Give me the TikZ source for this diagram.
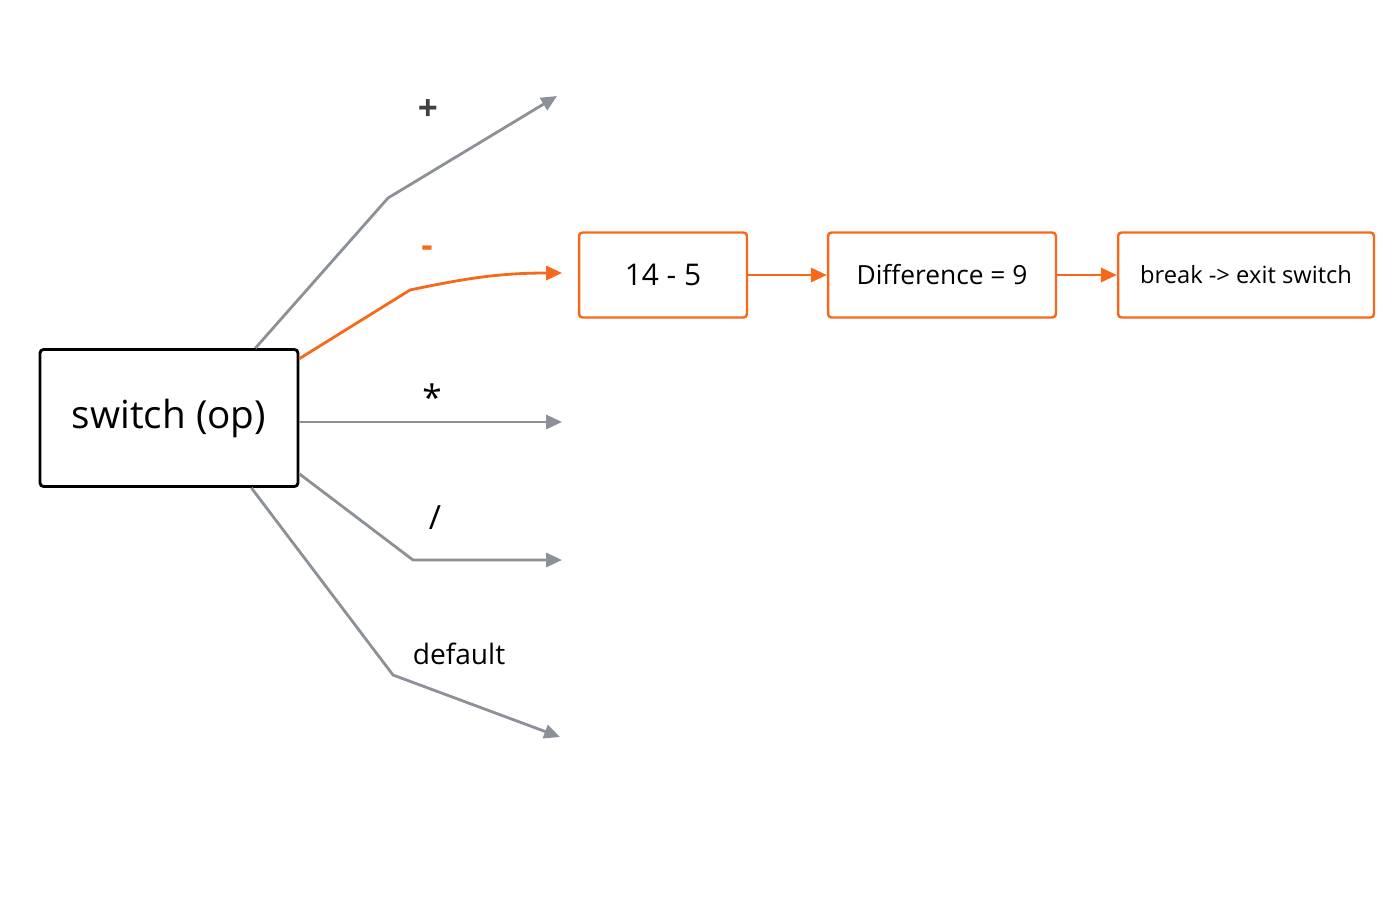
\documentclass[tikz,border=0pt]{standalone}
\usepackage{fontspec}
\setmainfont{Open Sans}
\usetikzlibrary{arrows.meta,positioning}

\definecolor{branchgray}{RGB}{140,144,152}
\definecolor{steporange}{RGB}{246,104,26}

\tikzset{
  gray line/.style={draw=branchgray, line width=1.6pt, -{Triangle[length=9pt,width=8pt]}},
  orange line/.style={draw=steporange, line width=1.6pt, -{Triangle[length=9pt,width=8pt]}},
  step box/.style={draw=steporange, line width=1.4pt, rounded corners=2pt, minimum height=1.7cm, inner sep=0pt},
  lbl/.style={font=\fontsize{16}{18}\selectfont}
}

\begin{document}
\begin{tikzpicture}[x=0.02cm,y=-0.02cm]
    \useasboundingbox (0,0) rectangle (1400,900);

    \node [draw, line width=1.6pt, rounded corners=2pt, minimum width=5.16cm, minimum height=2.74cm,
           font=\fontsize{22}{26}\selectfont] (sw) at (169,418) {switch (op)};

    \node [step box, minimum width=3.36cm, font=\fontsize{17}{20}\selectfont] (sub) at (663,275) {14 - 5};
    \node [step box, minimum width=4.56cm, font=\fontsize{15}{18}\selectfont] (diff) at (942,275) {Difference = 9};
    \node [step box, minimum width=5.12cm, font=\fontsize{13.5}{16}\selectfont] (brk) at (1246,275) {break -> exit switch};

    % free ends of the branches
    \coordinate (plus) at (557,96);
    \coordinate (minus) at (562,273);
    \coordinate (times) at (562,422);
    \coordinate (divide) at (562,560);
    \coordinate (dflt) at (560,737);

    \draw [gray line] (sw.north east) ++(-44,0) -- (388,198) -- (plus);
    \draw [orange line] ([yshift=-6]sw.north east) -- (410,290) to[out=12,in=180] (minus);
    \draw [gray line] (sw.east |- times) -- (times);
    \draw [gray line] ([yshift=8]sw.south east) -- (413,560) -- (divide);
    \draw [gray line] (sw.south east) ++(-48,0) -- (393,675) -- (dflt);

    \draw [orange line] (sub) -- (diff);
    \draw [orange line] (diff) -- (brk);

    \node [lbl, font=\fontsize{20}{22}\bfseries, text=black!75] at (428,110) {+};
    \node [lbl, font=\fontsize{20}{22}\bfseries, text=steporange] at (427,252) {-};
    \node [lbl, font=\fontsize{20}{22}\selectfont] at (432,397) {*};
    \node [lbl, font=\fontsize{19}{22}\selectfont] at (435,518) {/};
    \node [lbl] at (459,654) {default};
\end{tikzpicture}
\end{document}
